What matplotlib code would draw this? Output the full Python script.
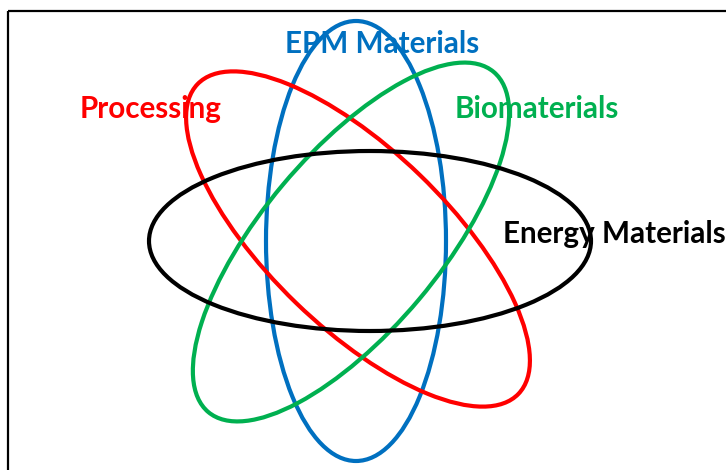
import matplotlib.pyplot as plt
from matplotlib.patches import Ellipse, Rectangle

# labels and colours of the four fields
labels = ['EPM Materials', 'Processing', 'Biomaterials', 'Energy Materials']
colors = ['#0070C0', '#FF0000', '#00B050', '#000000']

fig = plt.figure(figsize=(7.26, 4.70), dpi=100)
ax = fig.add_axes([0, 0, 1, 1])
ax.set_xlim(0, 726)
ax.set_ylim(470, 0)
ax.axis('off')

# frame (cut off at right and bottom)
ax.add_patch(Rectangle((8, 11), 760, 500, fill=False, ec='black', lw=1.6))

# ellipses: centre x, centre y, width, height, angle
shapes = [(356, 241, 180, 440, 0),
          (358, 239, 446, 178, 44),
          (351, 242, 444, 178, -50),
          (370, 241, 442, 180, 0)]
for (cx, cy, w, h, ang), c in zip(shapes, colors):
    ax.add_patch(Ellipse((cx, cy), w, h, angle=ang, fill=False, ec=c, lw=3))

# label positions (left, baseline)
pos = [(285, 53), (80, 118), (455, 118), (503, 243)]
for (x, y), t, c in zip(pos, labels, colors):
    ax.text(x, y, t, color=c, fontsize=21.3, fontweight='bold', family='Lato',
            ha='left', va='baseline')

plt.savefig('out.png', dpi=100)
